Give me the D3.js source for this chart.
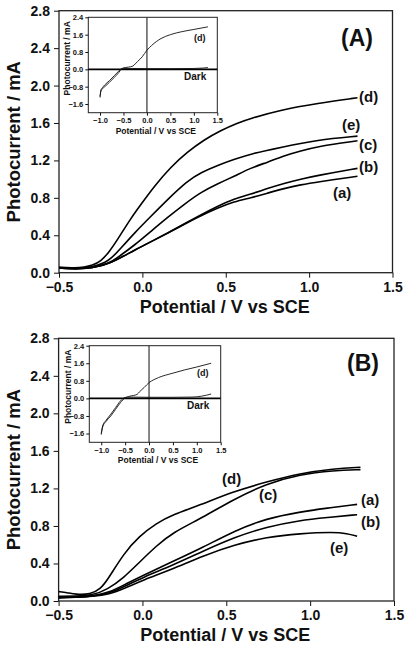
<!DOCTYPE html>
<html>
<head>
<meta charset="utf-8">
<script src="https://cdn.jsdelivr.net/npm/d3@7"></script>
<style>
  body { margin: 0; background: #fff; }
  text { font-family: "Liberation Sans", Arial, sans-serif; font-weight: bold; fill: #111; }
  .axis path, .axis line { stroke: #111; }
</style>
</head>
<body>
<svg id="chart" width="406" height="651"></svg>
<script>
// tick values
const mainXTicks = [-0.5, 0.0, 0.5, 1.0, 1.5];
const mainYTicks = [0.0, 0.4, 0.8, 1.2, 1.6, 2.0, 2.4, 2.8];
const insetXTicks = [-1.0, -0.5, 0.0, 0.5, 1.0, 1.5];
const insetYTicks = [-1.6, -0.8, 0.0, 0.8, 1.6, 2.4];

// panel A photocurrent curves [potential, current]
const curveA_a = [[-0.5,0.05],[-0.4,0.04],[-0.3,0.05],[-0.2,0.09],[-0.05,0.24],[0.15,0.42],[0.35,0.61],[0.45,0.69],[0.55,0.76],[0.65,0.8],[0.75,0.85],[0.85,0.9],[0.95,0.94],[1.05,0.97],[1.29,1.03]];
const curveA_b = [[-0.5,0.05],[-0.4,0.04],[-0.3,0.05],[-0.2,0.09],[-0.05,0.24],[0.15,0.42],[0.35,0.62],[0.45,0.71],[0.55,0.79],[0.65,0.84],[0.75,0.9],[0.85,0.955],[0.95,1.0],[1.05,1.04],[1.29,1.115]];
const curveA_c = [[-0.5,0.05],[-0.4,0.04],[-0.3,0.05],[-0.2,0.1],[-0.15,0.16],[-0.05,0.29],[0.05,0.44],[0.15,0.59],[0.25,0.73],[0.35,0.86],[0.45,0.95],[0.55,1.03],[0.65,1.12],[0.75,1.18],[0.85,1.25],[0.95,1.3],[1.05,1.35],[1.29,1.41]];
const curveA_d = [[-0.5,0.06],[-0.4,0.05],[-0.35,0.06],[-0.3,0.08],[-0.25,0.12],[-0.2,0.22],[-0.15,0.35],[-0.07,0.58],[0,0.75],[0.07,0.92],[0.17,1.13],[0.27,1.29],[0.37,1.42],[0.47,1.52],[0.57,1.6],[0.65,1.65],[0.83,1.74],[1.05,1.81],[1.29,1.87]];
const curveA_e = [[-0.5,0.05],[-0.4,0.04],[-0.3,0.06],[-0.2,0.12],[-0.13,0.26],[-0.05,0.42],[0.05,0.6],[0.15,0.78],[0.27,0.98],[0.35,1.07],[0.47,1.16],[0.55,1.21],[0.65,1.27],[0.83,1.34],[1.05,1.42],[1.29,1.46]];

// panel B photocurrent curves
const curveB_a = [[-0.5,0.04],[-0.4,0.04],[-0.3,0.05],[-0.2,0.09],[-0.1,0.18],[0,0.27],[0.18,0.42],[0.36,0.57],[0.55,0.75],[0.74,0.88],[0.94,0.95],[1.1,0.99],[1.28,1.03]];
const curveB_b = [[-0.5,0.04],[-0.4,0.04],[-0.3,0.05],[-0.2,0.08],[-0.1,0.16],[0,0.25],[0.18,0.38],[0.36,0.53],[0.55,0.68],[0.74,0.79],[0.94,0.86],[1.1,0.89],[1.28,0.92]];
const curveB_c = [[-0.5,0.05],[-0.4,0.05],[-0.3,0.06],[-0.21,0.12],[-0.11,0.25],[-0.02,0.41],[0.085,0.59],[0.18,0.73],[0.36,0.89],[0.54,1.08],[0.74,1.25],[0.94,1.35],[1.14,1.39],[1.3,1.4]];
const curveB_d = [[-0.5,0.1],[-0.45,0.09],[-0.4,0.07],[-0.31,0.07],[-0.25,0.13],[-0.21,0.22],[-0.11,0.51],[-0.02,0.69],[0.085,0.83],[0.18,0.92],[0.34,1.02],[0.54,1.165],[0.74,1.27],[0.94,1.36],[1.14,1.41],[1.3,1.425]];
const curveB_e = [[-0.5,0.03],[-0.4,0.04],[-0.3,0.05],[-0.2,0.07],[-0.1,0.14],[0,0.22],[0.18,0.34],[0.36,0.48],[0.55,0.6],[0.74,0.68],[0.94,0.72],[1.14,0.735],[1.22,0.72],[1.28,0.69]];

// inset curves (light d vs dark)
const insetA_light = [[-1.0,-1.3],[-0.98,-1.0],[-0.95,-0.9],[-0.9,-0.8],[-0.8,-0.6],[-0.7,-0.38],[-0.6,-0.15],[-0.55,0.0],[-0.5,0.07],[-0.4,0.1],[-0.3,0.15],[-0.25,0.25],[-0.2,0.36],[-0.1,0.58],[0,0.88],[0.1,1.1],[0.2,1.28],[0.3,1.42],[0.5,1.6],[0.75,1.74],[1.0,1.84],[1.3,1.96]];
const insetA_dark = [[-1.0,-1.25],[-0.98,-0.95],[-0.95,-0.85],[-0.9,-0.72],[-0.8,-0.52],[-0.7,-0.3],[-0.6,-0.08],[-0.55,0.02],[-0.5,0.04],[-0.3,0.04],[0,0.03],[0.5,0.03],[1.0,0.04],[1.2,0.06],[1.3,0.08]];
const insetB_light = [[-1.0,-1.65],[-0.97,-1.3],[-0.9,-1.05],[-0.8,-0.8],[-0.7,-0.5],[-0.6,-0.2],[-0.5,0.02],[-0.4,0.1],[-0.25,0.18],[-0.2,0.3],[-0.1,0.5],[0,0.72],[0.1,0.85],[0.2,0.95],[0.5,1.15],[0.75,1.3],[1.0,1.43],[1.3,1.6]];
const insetB_dark = [[-1.0,-1.6],[-0.97,-1.25],[-0.9,-1.0],[-0.8,-0.72],[-0.7,-0.42],[-0.6,-0.12],[-0.5,0.04],[-0.4,0.06],[0,0.05],[0.5,0.05],[0.9,0.06],[1.1,0.1],[1.3,0.2]];

const svg = d3.select("#chart");
const fmt = d3.format(".1f");

function drawPanel(p) {
  var x = d3.scaleLinear().domain([-0.5, 1.5]).range([p.left, p.right]),
      y = d3.scaleLinear().domain([0, 2.8]).range([p.bottom, p.top]),
      g = svg.append("g");

  var line = d3.line()
      .x(function(d) { return x(d[0]); })
      .y(function(d) { return y(d[1]); })
      .curve(d3.curveBasis);

  g.append("g").attr("class", "axis")
      .attr("transform", "translate(0," + p.bottom + ")")
      .call(d3.axisBottom(x).tickValues(mainXTicks).tickFormat(fmt).tickSize(5).tickPadding(4))
      .call(function(a) { a.select(".domain").remove(); })
      .selectAll("text").style("font-size", "14px");

  g.append("g").attr("class", "axis")
      .attr("transform", "translate(" + p.left + ",0)")
      .call(d3.axisLeft(y).tickValues(mainYTicks).tickFormat(fmt).tickSize(5).tickPadding(4))
      .call(function(a) { a.select(".domain").remove(); })
      .selectAll("text").style("font-size", "14px");

  g.append("rect")
      .attr("x", p.left).attr("y", p.top)
      .attr("width", p.right - p.left).attr("height", p.bottom - p.top)
      .attr("fill", "none").attr("stroke", "#222").attr("stroke-width", 1.3);

  p.curves.forEach(function(c) {
    g.append("path").datum(c)
        .attr("d", line)
        .attr("fill", "none").attr("stroke", "#000").attr("stroke-width", 1.6);
  });

  p.labels.forEach(function(l) {
    g.append("text").attr("x", l[1]).attr("y", l[2])
        .style("font-size", "15px").text(l[0]);
  });

  g.append("text").attr("x", p.tag[1]).attr("y", p.tag[2])
      .style("font-size", "23px").text(p.tag[0]);

  g.append("text")
      .attr("x", (p.left + p.right) / 2 - 1).attr("y", p.bottom + 40)
      .attr("text-anchor", "middle").style("font-size", "18px")
      .text("Potential / V vs SCE");

  g.append("text")
      .attr("transform", "translate(20," + ((p.top + p.bottom) / 2) + ") rotate(-90)")
      .attr("text-anchor", "middle").style("font-size", "18.5px")
      .text("Photocurrent / mA");

  // inset
  var n = p.inset,
      xi = d3.scaleLinear().domain([-1.25, 1.5]).range([n.left, n.right]),
      yi = d3.scaleLinear().domain([-2.0, 2.4]).range([n.bottom, n.top]),
      gi = svg.append("g");

  var lineI = d3.line()
      .x(function(d) { return xi(d[0]); })
      .y(function(d) { return yi(d[1]); })
      .curve(d3.curveMonotoneX);

  gi.append("rect")
      .attr("x", n.left).attr("y", n.top)
      .attr("width", n.right - n.left).attr("height", n.bottom - n.top)
      .attr("fill", "#fff").attr("stroke", "#222").attr("stroke-width", 1);

  gi.append("g").attr("class", "axis")
      .attr("transform", "translate(0," + n.bottom + ")")
      .call(d3.axisBottom(xi).tickValues(insetXTicks).tickFormat(fmt).tickSize(3).tickPadding(2))
      .call(function(a) { a.select(".domain").remove(); })
      .selectAll("text").style("font-size", "7.5px");

  gi.append("g").attr("class", "axis")
      .attr("transform", "translate(" + n.left + ",0)")
      .call(d3.axisLeft(yi).tickValues(insetYTicks).tickFormat(fmt).tickSize(3).tickPadding(2))
      .call(function(a) { a.select(".domain").remove(); })
      .selectAll("text").style("font-size", "7.5px");

  gi.append("line")
      .attr("x1", xi(0)).attr("x2", xi(0)).attr("y1", n.top).attr("y2", n.bottom)
      .attr("stroke", "#222").attr("stroke-width", 1.1);
  gi.append("line")
      .attr("x1", n.left).attr("x2", n.right).attr("y1", yi(0)).attr("y2", yi(0))
      .attr("stroke", "#000").attr("stroke-width", 1.6);

  [n.dark, n.light].forEach(function(c) {
    gi.append("path").datum(c)
        .attr("d", lineI)
        .attr("fill", "none").attr("stroke", "#111").attr("stroke-width", 0.9);
  });

  gi.append("text").attr("x", n.dLabel[0]).attr("y", n.dLabel[1])
      .style("font-size", "9px").text("(d)");
  gi.append("text").attr("x", n.darkLabel[0]).attr("y", n.darkLabel[1])
      .style("font-size", "10px").text("Dark");

  gi.append("text")
      .attr("x", (n.left + n.right) / 2 + 3).attr("y", n.bottom + 21)
      .attr("text-anchor", "middle").style("font-size", "8.5px")
      .text("Potential / V vs SCE");

  gi.append("text")
      .attr("transform", "translate(" + (n.left - 18) + "," + (n.top + 41) + ") rotate(-90)")
      .attr("text-anchor", "middle").style("font-size", "8.5px")
      .text("Photocurrent / mA");
}

drawPanel({
  left: 59, right: 392.5, top: 10.7, bottom: 272.7,
  curves: [curveA_a, curveA_b, curveA_c, curveA_d, curveA_e],
  labels: [["(d)", 359, 102], ["(e)", 342, 130], ["(c)", 359, 150], ["(b)", 359, 172], ["(a)", 333, 198]],
  tag: ["(A)", 341, 46],
  inset: {
    left: 88.3, right: 217.3, top: 17.3, bottom: 112.7,
    light: insetA_light, dark: insetA_dark,
    dLabel: [194, 41], darkLabel: [184, 80]
  }
});

drawPanel({
  left: 58.6, right: 394, top: 338.3, bottom: 601,
  curves: [curveB_a, curveB_b, curveB_c, curveB_d, curveB_e],
  labels: [["(d)", 222, 484], ["(c)", 259, 500], ["(a)", 361, 505], ["(b)", 361, 527], ["(e)", 330, 553]],
  tag: ["(B)", 347, 371],
  inset: {
    left: 89.3, right: 220.7, top: 345.7, bottom: 442.3,
    light: insetB_light, dark: insetB_dark,
    dLabel: [197, 376], darkLabel: [187, 409]
  }
});
</script>
</body>
</html>
